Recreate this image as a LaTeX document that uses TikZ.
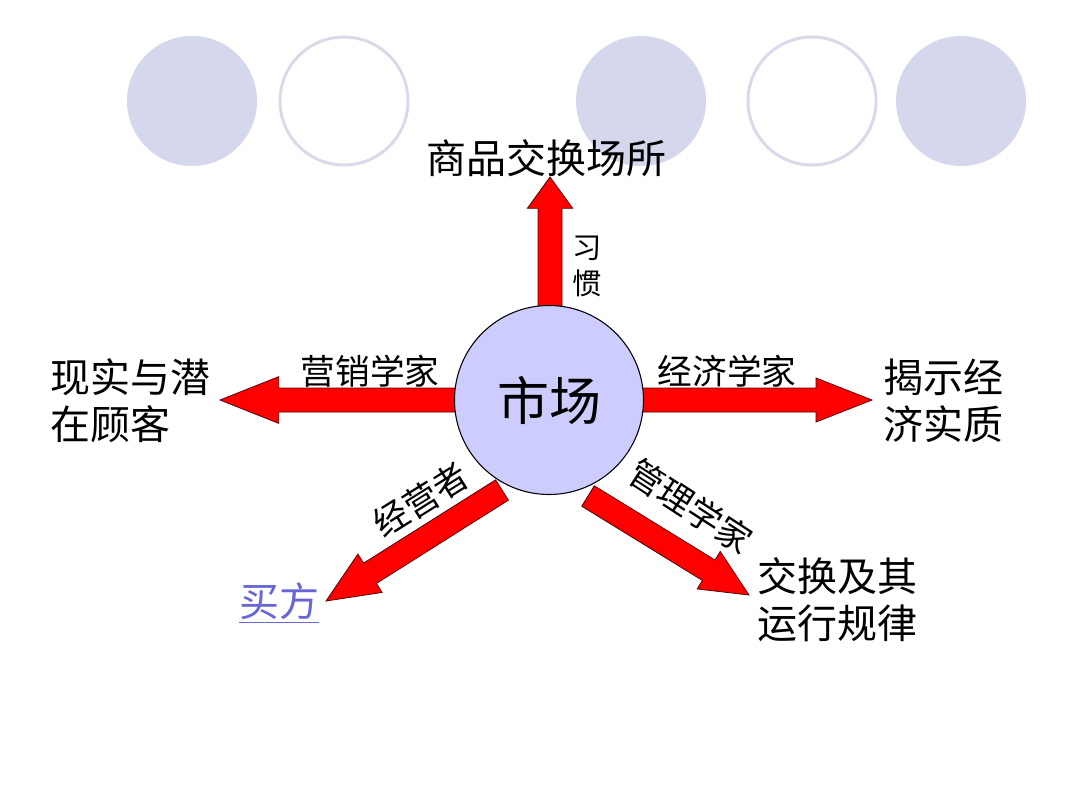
\documentclass[tikz,border=0pt]{standalone}
\usepackage{fontspec}
\newfontfamily\cjk{Noto Sans CJK SC}
\usetikzlibrary{calc}
\definecolor{deco}{RGB}{213,215,236}
\definecolor{decoline}{RGB}{216,218,234}
\definecolor{core}{RGB}{204,204,255}
\definecolor{arrred}{RGB}{255,0,0}
\definecolor{arredge}{RGB}{90,0,0}
\definecolor{linkblue}{RGB}{102,102,214}
\tikzset{
  decofill/.style={circle,fill=deco,minimum size=97.5pt,inner sep=0pt},
  decoring/.style={circle,draw=decoline,line width=2.2pt,fill=white,minimum size=96pt,inner sep=0pt},
  corenode/.style={circle,draw=black,line width=0.8pt,fill=core,minimum size=141.75pt,inner sep=0pt,font=\cjk\fontsize{39}{44}\selectfont},
  bigtext/.style={inner sep=0pt,font=\cjk\fontsize{30}{35.25}\selectfont},
  midtext/.style={inner sep=0pt,font=\cjk\fontsize{26}{30}\selectfont},
  smalltext/.style={inner sep=0pt,font=\cjk\fontsize{22}{27}\selectfont},
  redarr/.style={fill=arrred,draw=arredge,line width=0.6pt,line join=miter}
}
% #1 start, #2 tip, #3 shaft half width, #4 head half width, #5 head length
\newcommand\redarrow[5]{%
  \path[redarr]
    ($(#1)!#3!90:(#2)$) --
    ($($(#2)!#5!(#1)$)!#3!90:(#2)$) --
    ($($(#2)!#5!(#1)$)!#4!90:(#2)$) --
    (#2) --
    ($($(#2)!#5!(#1)$)!#4!-90:(#2)$) --
    ($($(#2)!#5!(#1)$)!#3!-90:(#2)$) --
    ($(#1)!#3!-90:(#2)$) -- cycle;%
}
\begin{document}
\begin{tikzpicture}[x=0.75pt,y=-0.75pt]
\useasboundingbox (0,0) rectangle (1080,810);
\fill[white] (0,0) rectangle (1080,810);
% decorative circles
\node[decofill] (d1) at (192,101) {};
\node[decoring] (d2) at (344,101) {};
\node[decofill] (d3) at (641,101) {};
\node[decoring] (d4) at (812,101) {};
\node[decofill] (d5) at (961,101) {};
% labels
\node[bigtext] (top) at (546,158) {商品交换场所};
\node[bigtext,align=left,anchor=west] (left) at (50,401) {现实与潜\\在顾客};
\node[bigtext,align=left,anchor=west] (right) at (883,401) {揭示经\\济实质};
\node[bigtext,align=left,anchor=west] (lr) at (757,600) {交换及其\\运行规律};
\node[bigtext,text=linkblue,anchor=west] (ll) at (239,603) {\underline{买方}};
% arrow end points
\coordinate (sU) at (550,330);
\coordinate (tU) at (550,177);
\coordinate (sL) at (470,400);
\coordinate (tL) at (220,400);
\coordinate (sR) at (630,400);
\coordinate (tR) at (872,400);
\coordinate (sLL) at (502,490);
\coordinate (tLL) at (326,601);
\coordinate (sLR) at (588,496);
\coordinate (tLR) at (749,595);
% arrows
\redarrow{sU}{tU}{9pt}{17pt}{23.5pt}
\redarrow{sL}{tL}{9pt}{17.5pt}{44pt}
\redarrow{sR}{tR}{9pt}{16.5pt}{42pt}
\redarrow{sLL}{tLL}{9pt}{17pt}{39pt}
\redarrow{sLR}{tLR}{9pt}{16.5pt}{35.5pt}
% center
\node[corenode] (m) at (549,400) {市场};
% arrow labels
\node[smalltext,align=center] (xg) at (587,266) {习\\惯};
\node[midtext] (yx) at (370,371) {营销学家};
\node[midtext] (jj) at (727,371) {经济学家};
\node[midtext,rotate=32] (jy) at (421,500) {经营者};
\node[midtext,rotate=-33] (gl) at (691,506) {管理学家};
\end{tikzpicture}
\end{document}
